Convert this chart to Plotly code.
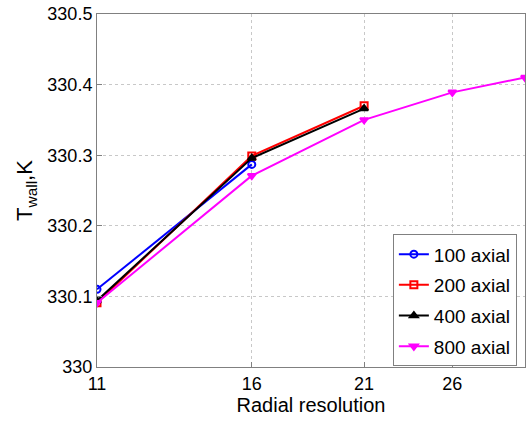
import plotly.graph_objects as go
import math

# Data
x_100 = [11, 16]
y_100 = [330.110, 330.287]
x_200 = [11, 16, 21]
y_200 = [330.091, 330.299, 330.370]
x_400 = [11, 16, 21]
y_400 = [330.094, 330.296, 330.366]
x_800 = [11, 16, 21, 26, 31]
y_800 = [330.091, 330.271, 330.350, 330.389, 330.410]

x_ticks = [11, 16, 21, 26]
y_ticks = [330.0, 330.1, 330.2, 330.3, 330.4, 330.5]
y_ticktext = ["330", "330.1", "330.2", "330.3", "330.4", "330.5"]

FONT = "Liberation Sans, Arial, Helvetica, sans-serif"

fig = go.Figure()
series = [
    ("100 axial", x_100, y_100, "#0000FF", "circle-open"),
    ("200 axial", x_200, y_200, "#FF0000", "square-open"),
    ("400 axial", x_400, y_400, "#000000", "triangle-up"),
    ("800 axial", x_800, y_800, "#FF00FF", "triangle-down"),
]
for name, xs, ys, col, sym in series:
    fig.add_trace(go.Scatter(
        x=xs, y=ys, name=name, mode="lines+markers",
        legendgroup=name,
        line=dict(color=col, width=2),
        marker=dict(symbol=sym, size=7, color=col, line=dict(color=col, width=2)),
    ))

axis_common = dict(
    showline=True, linecolor="#808080", linewidth=1, mirror=True,
    ticks="inside", ticklen=5, tickcolor="#808080",
    showgrid=True, gridcolor="#c8c8c8", griddash="dot", gridwidth=1,
    zeroline=False, ticklabeloverflow="allow",
    tickfont=dict(family=FONT, size=18, color="black"),
)

fig.update_layout(
    width=526, height=423,
    margin=dict(l=97, r=1, t=14, b=56),
    paper_bgcolor="white", plot_bgcolor="white",
    font=dict(family=FONT, color="black"),
    xaxis=dict(
        type="log", range=[math.log10(11), math.log10(31)],
        tickvals=x_ticks, ticktext=[str(v) for v in x_ticks],
        title=dict(text="Radial resolution", font=dict(family=FONT, size=20), standoff=4),
        **axis_common,
    ),
    yaxis=dict(
        range=[330.0, 330.5],
        tickvals=y_ticks, ticktext=y_ticktext,
        title=dict(text="T<sub>wall</sub>,K", font=dict(family=FONT, size=22), standoff=8),
        **axis_common,
    ),
    legend=dict(
        x=0.981, y=0.002, xanchor="right", yanchor="bottom",
        bgcolor="white", bordercolor="#808080", borderwidth=1,
        font=dict(family=FONT, size=19),
        traceorder="grouped", tracegroupgap=3, itemwidth=30,
    ),
    showlegend=True,
)

fig.write_html(
    "out.html",
    config={"displayModeBar": False},
    post_script="document.body.style.margin='0';document.body.style.overflow='hidden';",
)
